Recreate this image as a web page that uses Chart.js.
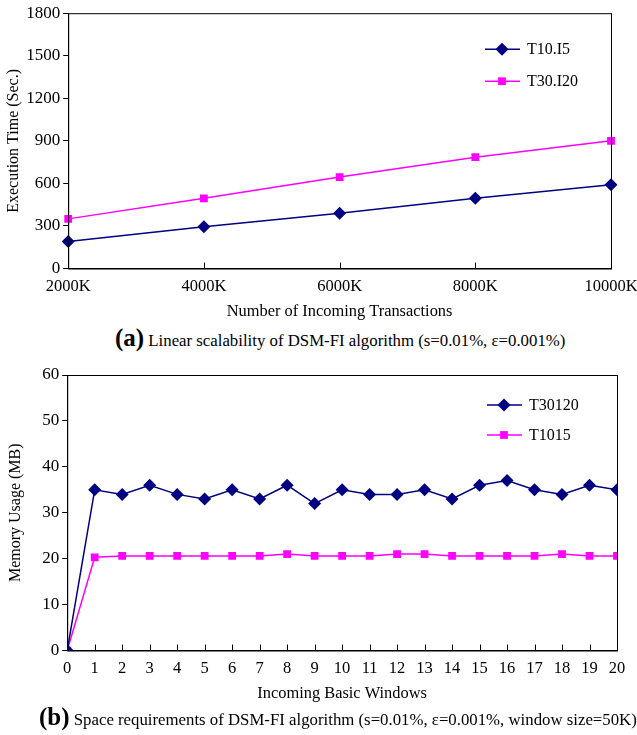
<!DOCTYPE html>
<html>
<head>
<meta charset="utf-8">
<script src="https://cdn.jsdelivr.net/npm/chart.js@4/dist/chart.umd.min.js"></script>
<style>
  body { margin: 0; background: #fff; overflow: hidden; font-family: "Liberation Serif", serif; }
  #wrapA { position: absolute; left: 0; top: 0; width: 637px; height: 322px; }
  #wrapB { position: absolute; left: 0; top: 355px; width: 637px; height: 349px; }
  .cap { position: absolute; white-space: nowrap; font-size: 16.8px; color: #000; }
  .cap b { font-size: 25px; }
</style>
</head>
<body>
<div id="wrapA"><canvas id="chartA"></canvas></div>
<div class="cap" style="left:115px; top:324px;"><b>(a)</b> Linear scalability of DSM-FI algorithm (s=0.01%, ε=0.001%)</div>
<div id="wrapB"><canvas id="chartB"></canvas></div>
<div class="cap" style="left:39px; top:703px;"><b>(b)</b> Space requirements of DSM-FI algorithm (s=0.01%, ε=0.001%, window size=50K)</div>
<script>
// chart (a)
const transactions = ['2000K', '4000K', '6000K', '8000K', '10000K'];
const timeT10I5 = [190, 295, 390, 495, 590];
const timeT30I20 = [350, 495, 645, 785, 900];

// chart (b)
const windows = [0, 1, 2, 3, 4, 5, 6, 7, 8, 9, 10, 11, 12, 13, 14, 15, 16, 17, 18, 19, 20];
const memT30120 = [0, 35, 34, 36, 34, 33, 35, 33, 36, 32, 35, 34, 34, 35, 33, 36, 37, 35, 34, 36, 35];
const memT1015 = [0, 20.3, 20.6, 20.6, 20.6, 20.6, 20.6, 20.6, 21, 20.6, 20.6, 20.6, 21, 21, 20.6, 20.6, 20.6, 20.6, 21, 20.6, 20.6];

const navy = '#000080';
const pink = '#FF00FF';
const serif = '"Liberation Serif", "Times New Roman", serif';

Chart.defaults.font.family = serif;
Chart.defaults.color = '#000';
Chart.defaults.animation = false;

// box around plot, inward x ticks, legend with line + marker
const framePlugin = {
  id: 'frame',
  afterDatasetsDraw(chart, args, opts) {
    const { ctx, chartArea: a } = chart;
    const x = chart.scales.x;
    ctx.save();
    ctx.strokeStyle = '#000';
    ctx.lineWidth = 1;
    ctx.strokeRect(a.left + 0.5, a.top + 0.5, a.right - a.left, a.bottom - a.top);
    ctx.beginPath();
    x.ticks.forEach((t, i) => {
      const px = Math.round(x.getPixelForTick(i)) + 0.5;
      ctx.moveTo(px, a.bottom);
      ctx.lineTo(px, a.bottom - 6);
    });
    ctx.stroke();

    // legend
    chart.data.datasets.forEach((ds, i) => {
      const lx = a.right - opts.dx;
      const ly = a.top + opts.dy + i * opts.gap;
      ctx.strokeStyle = ds.borderColor;
      ctx.lineWidth = 1.5;
      ctx.beginPath();
      ctx.moveTo(lx, ly);
      ctx.lineTo(lx + 35, ly);
      ctx.stroke();
      ctx.fillStyle = ds.pointBackgroundColor;
      Chart.helpers.drawPoint(ctx, { pointStyle: ds.pointStyle, radius: ds.pointRadius, borderWidth: 0 }, lx + 17, ly);
      ctx.fillStyle = '#000';
      ctx.font = '16px ' + serif;
      ctx.textBaseline = 'middle';
      ctx.fillText(ds.label, lx + 42, ly + 1);
    });
    ctx.restore();
  }
};

function line(label, data, color, style, radius) {
  return {
    label: label,
    data: data,
    borderColor: color,
    backgroundColor: color,
    pointBackgroundColor: color,
    pointBorderColor: color,
    pointBorderWidth: 0,
    pointStyle: style,
    pointRadius: radius,
    borderWidth: 1.5,
    tension: 0
  };
}

const plain = v => String(v);

new Chart(document.getElementById('chartA'), {
  type: 'line',
  data: {
    labels: transactions,
    datasets: [
      line('T10.I5', timeT10I5, navy, 'rectRot', 6.5),
      line('T30.I20', timeT30I20, pink, 'rect', 5.5)
    ]
  },
  options: {
    responsive: true,
    maintainAspectRatio: false,
    layout: { padding: { top: 6, right: 26, left: 4, bottom: 0 } },
    plugins: {
      legend: { display: false },
      tooltip: { enabled: false },
      frame: { dx: 126, dy: 36, gap: 32 }
    },
    scales: {
      x: {
        offset: false,
        grid: { display: false },
        border: { color: '#000' },
        ticks: { font: { size: 16.5 }, padding: 0, maxRotation: 0 },
        title: { display: true, text: 'Number of Incoming Transactions', font: { size: 16.4 }, padding: { top: 6, bottom: 0 } },
        afterFit(scale) { scale.paddingRight = 0; }
      },
      y: {
        min: 0,
        max: 1800,
        grid: { drawOnChartArea: false, tickLength: 5, color: '#000' },
        border: { color: '#000' },
        ticks: { stepSize: 300, font: { size: 17 }, padding: 3, callback: plain },
        title: { display: true, text: 'Execution Time (Sec.)', font: { size: 16 }, padding: 0 }
      }
    }
  },
  plugins: [framePlugin]
});

new Chart(document.getElementById('chartB'), {
  type: 'line',
  data: {
    datasets: [
      line('T30120', memT30120.map((v, i) => ({ x: windows[i], y: v })), navy, 'rectRot', 6.5),
      line('T1015', memT1015.map((v, i) => ({ x: windows[i], y: v })), pink, 'rect', 5.5)
    ]
  },
  options: {
    responsive: true,
    maintainAspectRatio: false,
    layout: { padding: { top: 20, right: 20, left: 6, bottom: 0 } },
    plugins: {
      legend: { display: false },
      tooltip: { enabled: false },
      frame: { dx: 130, dy: 30, gap: 30 }
    },
    scales: {
      x: {
        type: 'linear',
        min: 0,
        max: 20,
        grid: { display: false },
        border: { color: '#000' },
        ticks: { stepSize: 1, font: { size: 16.5 }, padding: 0, maxRotation: 0, autoSkip: false },
        title: { display: true, text: 'Incoming Basic Windows', font: { size: 16.4 }, padding: { top: 6, bottom: 0 } }
      },
      y: {
        min: 0,
        max: 60,
        grid: { drawOnChartArea: false, tickLength: 5, color: '#000' },
        border: { color: '#000' },
        ticks: { stepSize: 10, font: { size: 17 }, padding: 3, callback: plain },
        title: { display: true, text: 'Memory Usage (MB)', font: { size: 16 }, padding: { top: 0, bottom: 14 } }
      }
    }
  },
  plugins: [framePlugin]
});
</script>
</body>
</html>
